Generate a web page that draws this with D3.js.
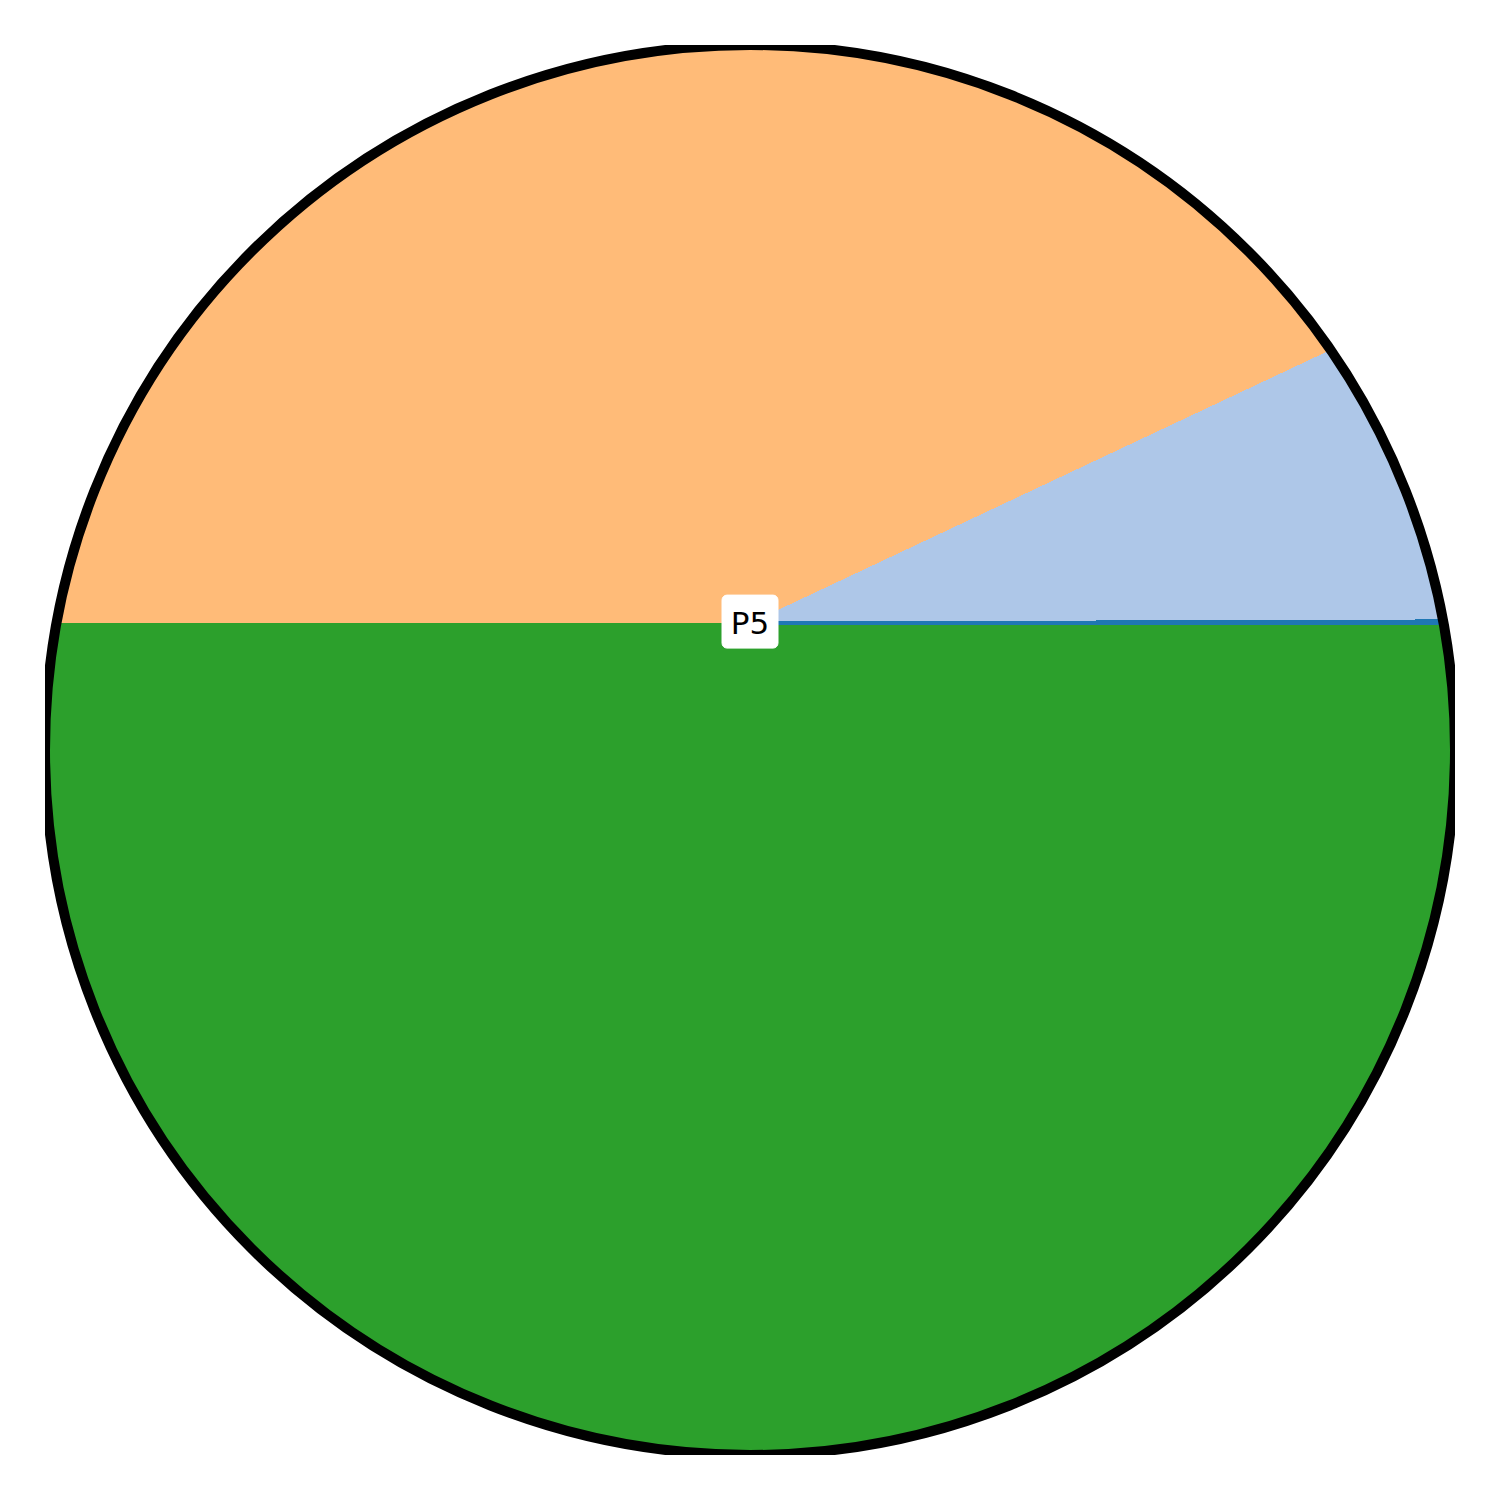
<!DOCTYPE html>
<html>
<head>
<meta charset="utf-8">
<script src="https://cdn.jsdelivr.net/npm/d3@7"></script>
<style>
html, body { margin: 0; padding: 0; background: #fff; }
svg { display: block; }
</style>
</head>
<body>
<svg id="chart" width="1500" height="1500"></svg>
<script>
// Data
const categories = ["P1", "P2", "P3", "P4"];
const values = [0.05, 6.95, 43.0, 50.0];
const colors = ["#1f77b4", "#aec7e8", "#ffbb78", "#2ca02c"];
const labelText = ["P5"];
const pieCenter = [0, 0.18];   // in unit (axis) coordinates

const W = 1500, H = 1500;
const svg = d3.select("#chart");

const x = d3.scaleLinear().domain([-1, 1]).range([45, 1455]);
const y = d3.scaleLinear().domain([-1, 1]).range([1455, 45]);
const R = x(1) - x(0);

const defs = svg.append("defs");
defs.append("clipPath").attr("id", "axclip")
  .append("rect").attr("x", x(-1)).attr("y", y(1))
  .attr("width", x(1) - x(-1)).attr("height", y(-1) - y(1));
defs.append("clipPath").attr("id", "circclip")
  .append("circle").attr("cx", x(0)).attr("cy", y(0)).attr("r", R);

const g = svg.append("g").attr("clip-path", "url(#axclip)");

const pie = d3.pie().sort(null).value(d => d)
  .startAngle(Math.PI / 2).endAngle(Math.PI / 2 - 2 * Math.PI);
const arc = d3.arc().innerRadius(0).outerRadius(R * 1.4);

const slices = g.append("g").attr("clip-path", "url(#circclip)")
  .append("g")
  .attr("transform", `translate(${x(pieCenter[0])},${y(pieCenter[1])})`);

const arcs = pie(values);
// draw larger slices first, then the thin first slice on top
slices.selectAll("path")
  .data(arcs.map((d, i) => ({ d, i })).reverse())
  .join("path")
  .attr("d", o => arc(o.d))
  .attr("fill", o => colors[o.i])
  .attr("stroke", o => o.i === 0 ? colors[0] : "none")
  .attr("stroke-width", o => o.i === 0 ? 3 : 0)
  .attr("shape-rendering", "crispEdges");

g.append("circle")
  .attr("cx", x(0)).attr("cy", y(0)).attr("r", R)
  .attr("fill", "none").attr("stroke", "#000").attr("stroke-width", 10);

// label
const lx = x(pieCenter[0]), ly = y(pieCenter[1]);
const lab = svg.append("g").attr("transform", `translate(${lx},${ly})`);
lab.append("rect")
  .attr("x", -28).attr("y", -28).attr("width", 56).attr("height", 53)
  .attr("rx", 5).attr("ry", 5)
  .attr("fill", "#fff").attr("stroke", "#fff").attr("stroke-width", 1);
lab.selectAll("text").data(labelText).join("text")
  .attr("x", 0).attr("y", 11)
  .attr("text-anchor", "middle")
  .attr("font-family", "DejaVu Sans")
  .attr("font-size", 31)
  .attr("fill", "#000")
  .text(d => d);
</script>
</body>
</html>
